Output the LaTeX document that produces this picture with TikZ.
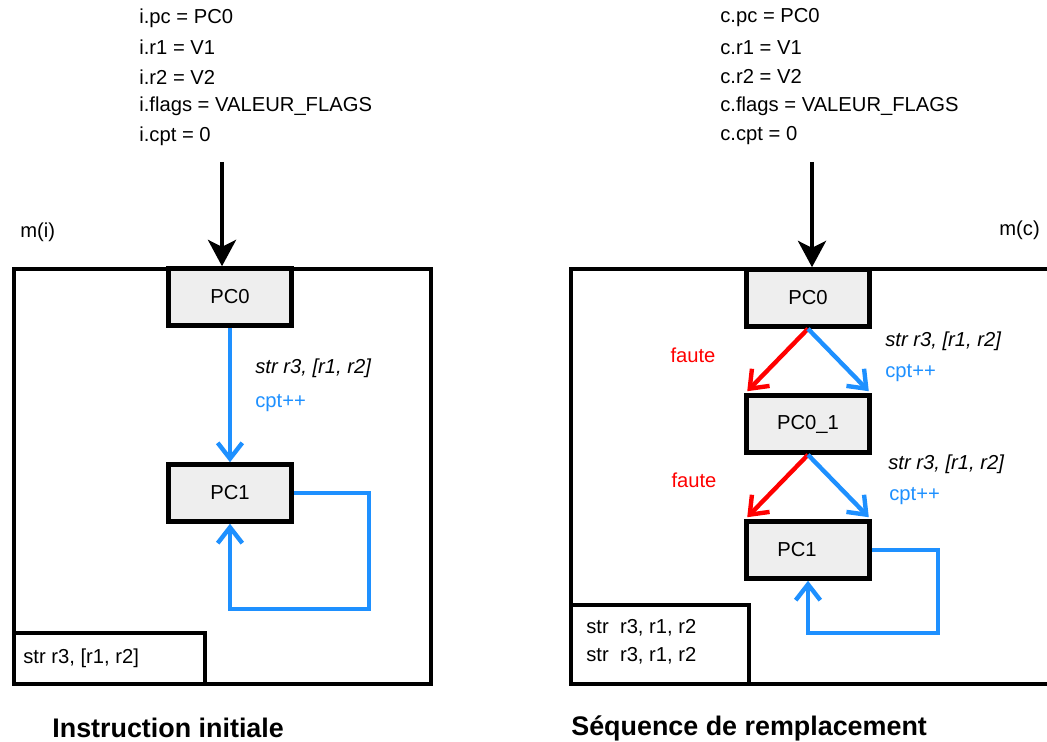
\documentclass[tikz,border=0pt]{standalone}
\usepackage{fontspec}
\setmainfont{Liberation Sans}
\usepackage{tikz}
\usetikzlibrary{arrows.meta}
\definecolor{bluex}{HTML}{1E90FF}
\definecolor{redx}{HTML}{FF0000}
\definecolor{softbg}{HTML}{EEEEEE}
\tikzset{
  frame/.style={draw,line width=2.6pt},
  pcbox/.style={draw,line width=2.6pt,fill=softbg,minimum width=2.46cm,minimum height=1.14cm,inner sep=0pt},
  ar/.style={-{Straight Barb[length=9pt,width=14pt]},line width=2.5pt,bluex},
  arr/.style={ar,redx},
  big/.style={-{Stealth[length=15pt,width=16pt,inset=4pt]},line width=2.2pt},
  lbl/.style={anchor=west,inner sep=0pt},
  ttl/.style={anchor=west,inner sep=0pt,font=\fontsize{15.3}{18}\selectfont\bfseries}
}
\begin{document}
\begin{tikzpicture}[x=0.02cm,y=-0.02cm,font=\fontsize{11.5}{14}\selectfont]
\useasboundingbox (0,0) rectangle (1047,742);
% instruction initiale
\foreach \t [count=\k] in {i.pc = PC0,i.r1 = V1,i.r2 = V2,i.flags = VALEUR\_FLAGS,i.cpt = 0}
  \node[lbl] at (139,{18+29.5*(\k-1)}) {\t};
\node[lbl] (mi) at (20,232) {m(i)};
\draw[frame] (14,269) rectangle (431,684);
\draw[frame] (14,633) rectangle (205,684);
\node[lbl] (strA) at (23,658.5) {str r3, [r1, r2]};
\node[pcbox] (pcA) at (230,297) {PC0};
\node[pcbox] (pcA1) at (230,493) {PC1};
\coordinate (inA) at (222,162);
\draw[big] (inA) -- (inA |- pcA.north);
\draw[ar] (pcA.south) -- (pcA1.north);
\node[lbl,font=\fontsize{11.5}{14}\selectfont\itshape] at (255,368) {str r3, [r1, r2]};
\node[lbl,bluex] at (255,403) {cpt++};
\coordinate (loopA) at (369,609);
\draw[ar] (pcA1.east) -| (loopA) -| (pcA1.south);
\node[ttl] (tA) at (52,728) {Instruction initiale};
% sequence de remplacement
\foreach \t [count=\k] in {c.pc = PC0,c.r1 = V1,c.r2 = V2,c.flags = VALEUR\_FLAGS,c.cpt = 0}
  \node[lbl] at (720,{18+29.5*(\k-1)}) {\t};
\node[lbl] (mc) at (999,230) {m(c)};
\draw[frame] (1047,269) -- (571,269) -- (571,684) -- (1047,684);
\draw[frame] (571,605) rectangle (749,684);
\node[lbl] at (586,628) {str~ r3, r1, r2};
\node[lbl] at (586,656) {str~ r3, r1, r2};
\node[pcbox] (pcB) at (808,298) {PC0};
\node[pcbox] (pcB1) at (808,424) {PC0\_1};
\node[pcbox] (pcB2) at (808,550) {\hspace*{-4.4mm}PC1};
\coordinate (inB) at (812,162);
\draw[big] (inB) -- (inB |- pcB.north);
\draw[arr] (pcB.south) -- ([shift={(3,-2)}]pcB1.north west);
\draw[ar] (pcB.south) -- ([shift={(-3,-2)}]pcB1.north east);
\draw[arr] (pcB1.south) -- ([shift={(3,-2)}]pcB2.north west);
\draw[ar] (pcB1.south) -- ([shift={(-3,-2)}]pcB2.north east);
\node[redx] at (693,355) {faute};
\node[redx] at (694,480) {faute};
\node[lbl,font=\fontsize{11.5}{14}\selectfont\itshape] at (885,341) {str r3, [r1, r2]};
\node[lbl,bluex] at (885,373) {cpt++};
\node[lbl,font=\fontsize{11.5}{14}\selectfont\itshape] at (888,464) {str r3, [r1, r2]};
\node[lbl,bluex] at (889,496) {cpt++};
\coordinate (loopB) at (938,633);
\draw[ar] (pcB2.east) -| (loopB) -| (pcB2.south);
\node[ttl] (tB) at (571,728) {Séquence de remplacement};
\end{tikzpicture}
\end{document}
